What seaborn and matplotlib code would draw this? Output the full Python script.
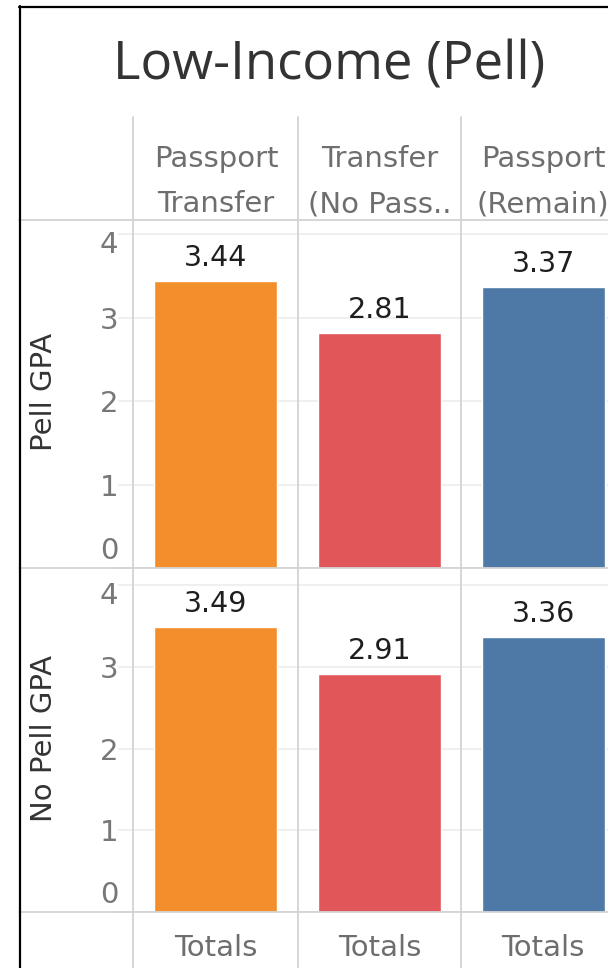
import matplotlib
matplotlib.use("Agg")
import matplotlib.pyplot as plt
import matplotlib.transforms as mtransforms
import seaborn as sns
import pandas as pd
from matplotlib.lines import Line2D

# ---- data ----
title = "Low-Income (Pell)"
categories = ["Passport\nTransfer", "Transfer\n(No Pass..", "Passport\n(Remain)"]
pell_gpa = [3.44, 2.81, 3.37]
no_pell_gpa = [3.49, 2.91, 3.36]
row_labels = ["Pell GPA", "No Pell GPA"]
footer_labels = ["Totals", "Totals", "Totals"]
yticks = [0, 1, 2, 3, 4]
colors = ["#F28E2B", "#E15759", "#4E79A7"]

sns.set_theme(style="white")
plt.rcParams["font.family"] = ["DejaVu Sans"]

W, H = 608, 968
fig = plt.figure(figsize=(W / 100, H / 100), dpi=100)
fig.patch.set_facecolor("white")

def fx(x):
    return x / W

def fy(y):
    return 1 - y / H

SEP = "#d3d3d3"
GRID = "#ececec"
TXT_GRAY = "#6e6e6e"
FS = 21

col_left = 133
col_right = 626
panels = [(220, 568, pell_gpa, 4.17), (568, 912, no_pell_gpa, 4.21)]
# baseline offset (px, downward) of tick label relative to its gridline
tick_off = {0: -9, 1: 11, 2: 11, 3: 11, 4: 19}

for (top, bot, vals, ymax), rlabel in zip(panels, row_labels):
    ax = fig.add_axes([fx(col_left), fy(bot), fx(col_right - col_left), (bot - top) / H])
    df = pd.DataFrame({"cat": categories, "val": vals})
    sns.barplot(data=df, x="cat", y="val", hue="cat", palette=colors,
                width=0.75, legend=False, ax=ax, saturation=1)
    ax.set_xlim(-0.5, 2.5)
    ax.set_ylim(0, ymax)
    ax.set_yticks(yticks)
    ax.tick_params(axis="y", length=11, width=1.2, color=GRID, left=True,
                   labelleft=False)
    ax.tick_params(axis="x", bottom=False, labelbottom=False)
    ax.set_xlabel("")
    ax.set_ylabel("")
    ax.yaxis.grid(True, color=GRID, linewidth=1.2)
    ax.set_axisbelow(True)
    for s in ax.spines.values():
        s.set_visible(False)
    for c in ax.containers:
        ax.bar_label(c, fmt="%.2f", padding=6.5, fontsize=20.5, color="#1e1e1e")
    blend = mtransforms.blended_transform_factory(fig.transFigure, ax.transData)
    for t in yticks:
        tr = blend + mtransforms.ScaledTranslation(0, -tick_off[t] / 100, fig.dpi_scale_trans)
        ax.text(fx(118), t, str(t), transform=tr, ha="right", va="baseline",
                fontsize=FS, color="#777777")
    fig.text(fx(44), fy((top + bot) / 2 - 2), rlabel, rotation=90, ha="center",
             va="center", fontsize=FS, color="#333333")

# separators
for x in [133, 298, 461]:
    fig.add_artist(Line2D([fx(x), fx(x)], [fy(117), fy(968)], color=SEP, lw=1.3))
for y in [220, 568, 912]:
    fig.add_artist(Line2D([fx(19), fx(608)], [fy(y), fy(y)], color=SEP, lw=1.3))

# outer border
fig.add_artist(Line2D([fx(20), fx(20)], [fy(6), fy(968)], color="black", lw=1.6))
fig.add_artist(Line2D([fx(19), fx(608)], [fy(7), fy(7)], color="black", lw=1.6))

# title
fig.text(fx(329), fy(80), title, ha="center", va="baseline", fontsize=38,
         color="#333333", family=["Open Sans", "DejaVu Sans"])

# column headers & footers
centers = [216, 380, 543]
for cx, lab, foot in zip(centers, categories, footer_labels):
    l1, l2 = lab.split("\n")
    fig.text(fx(cx), fy(167), l1, ha="center", va="baseline", fontsize=FS, color=TXT_GRAY)
    fig.text(fx(cx), fy(212), l2, ha="center", va="baseline", fontsize=FS, color=TXT_GRAY)
    fig.text(fx(cx), fy(956), foot, ha="center", va="baseline", fontsize=FS, color=TXT_GRAY)

fig.savefig("out.png", dpi=100)
